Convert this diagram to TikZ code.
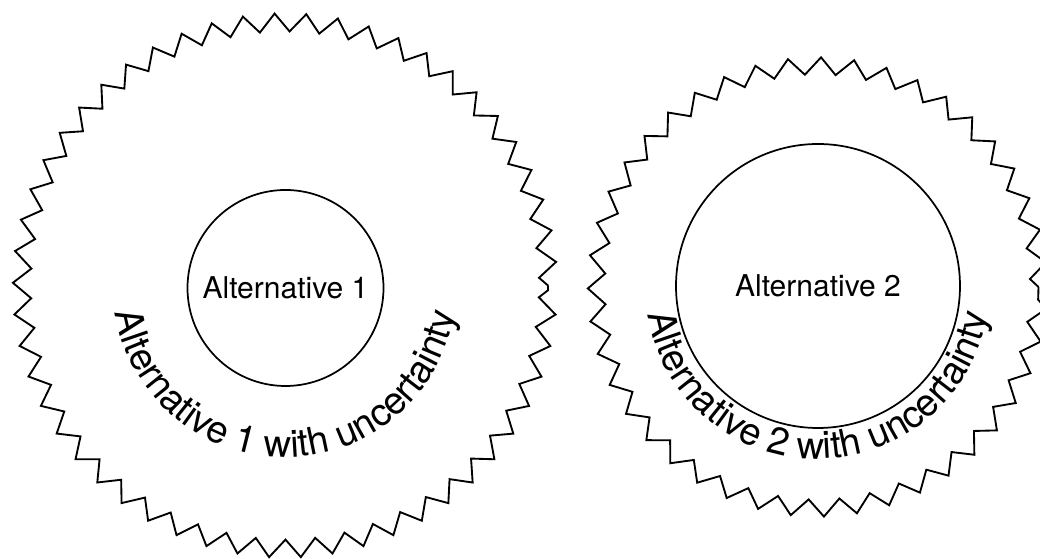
\documentclass[tikz,border=0pt]{standalone}
\usepackage{fontspec}
\setmainfont{TeX Gyre Heros}
\usetikzlibrary{decorations.pathmorphing,decorations.text}
\tikzset{
  zigA/.style={draw=black, line width=1.4pt, line join=miter, decorate,
    decoration={zigzag, segment length=23.1pt, amplitude=6.75pt}},
  zigB/.style={draw=black, line width=1.4pt, line join=miter, decorate,
    decoration={zigzag, segment length=24pt, amplitude=6.4pt}},
  altcirc/.style={draw=black, line width=1.3pt, circle, inner sep=0pt,
    font=\fontsize{22.5}{27}\selectfont},
}
\begin{document}
\begin{tikzpicture}[x=0.75pt,y=0.75pt]
\useasboundingbox (0,0) rectangle (1040,559);
\clip (0,0) rectangle (1040,559);
% centres
\coordinate (c1) at (285,273.5);
\coordinate (c2) at (817.5,272);
% uncertainty outlines
\path[zigA] (c1) circle[radius=197.25pt];
\path[zigB] (c2) circle[radius=165.75pt];
% alternatives
\node[altcirc, minimum size=147pt] (a1) at (285.5,271) {Alternative 1};
\node[altcirc, minimum size=213pt] (a2) at (818,273) {Alternative 2};
% curved labels
\path[decorate, decoration={text along path, text align=center,
  text={|\fontsize{28.5}{33}\selectfont|Alternative 1 with uncertainty}}]
  (c1) ++(180:129pt) arc[start angle=180, end angle=360, radius=129pt];
\path[decorate, decoration={text along path, text align=center,
  text={|\fontsize{28.5}{33}\selectfont|Alternative 2 with uncertainty}}]
  (c2) ++(180:129pt) arc[start angle=180, end angle=360, radius=129pt];
\end{tikzpicture}
\end{document}
